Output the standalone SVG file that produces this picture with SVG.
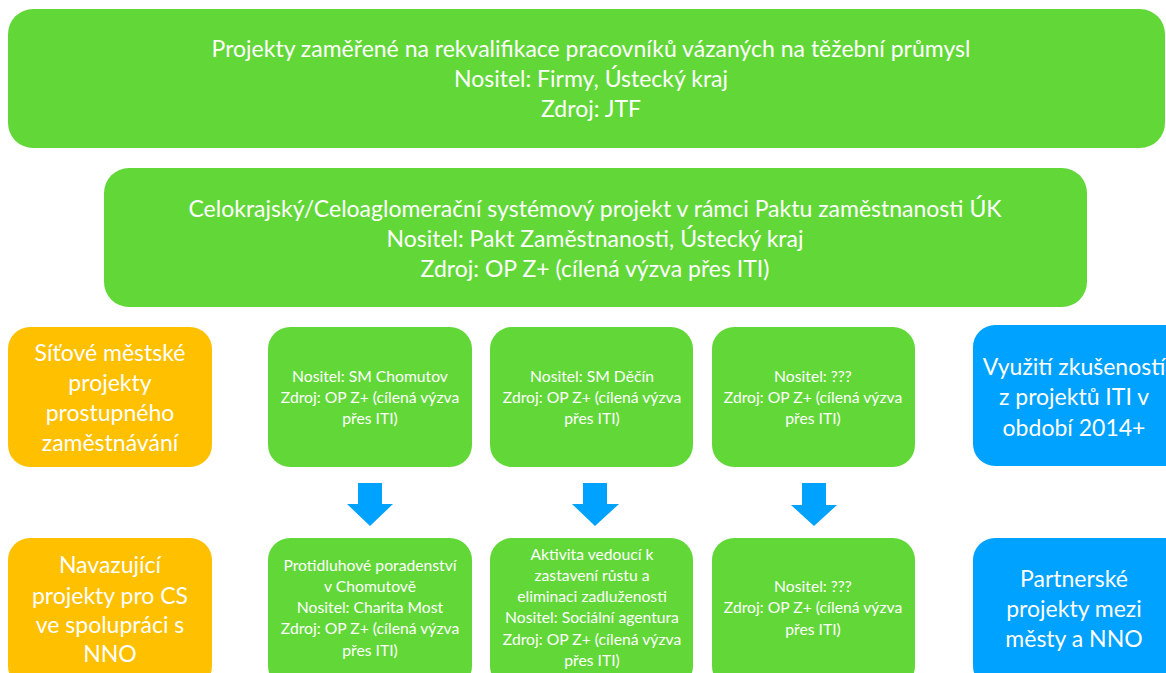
<svg xmlns="http://www.w3.org/2000/svg" width="1166" height="673" viewBox="0 0 1166 673">
<style>
.g{fill:#62D838}
.o{fill:#FFC000}
.b{fill:#00A2FF}
text{font-family:Lato,"Noto Sans",sans-serif;fill:#fff;text-anchor:middle}
.big{font-size:23px}
.sm{font-size:15.7px}
.arr{fill:#00A2FF}
</style>
<rect width="1166" height="673" fill="#fff"/>
<g id="n_top">
<rect class="g" x="8" y="9" width="1157" height="139" rx="25"/>
<text class="big" x="591" y="57">Projekty zaměřené na rekvalifikace pracovníků vázaných na těžební průmysl</text>
<text class="big" x="591" y="87">Nositel: Firmy, Ústecký kraj</text>
<text class="big" x="591" y="117">Zdroj: JTF</text>
</g>
<g id="n_pakt">
<rect class="g" x="104" y="168" width="983" height="139" rx="25"/>
<text class="big" x="595" y="217">Celokrajský/Celoaglomerační systémový projekt v rámci Paktu zaměstnanosti ÚK</text>
<text class="big" x="595" y="247">Nositel: Pakt Zaměstnanosti, Ústecký kraj</text>
<text class="big" x="595" y="277">Zdroj: OP Z+ (cílená výzva přes ITI)</text>
</g>
<g id="n_sitove">
<rect class="o" x="8" y="327" width="204" height="140" rx="22"/>
<text class="big" x="110" y="361">Síťové městské</text>
<text class="big" x="110" y="391">projekty</text>
<text class="big" x="110" y="421">prostupného</text>
<text class="big" x="110" y="451">zaměstnávání</text>
</g>
<g id="n_chomutov">
<rect class="g" x="268" y="327" width="204" height="140" rx="22"/>
<text class="sm" x="370" y="382">Nositel: SM Chomutov</text>
<text class="sm" x="370" y="403">Zdroj: OP Z+ (cílená výzva</text>
<text class="sm" x="370" y="424">přes ITI)</text>
</g>
<g id="n_decin">
<rect class="g" x="490" y="327" width="203" height="140" rx="22"/>
<text class="sm" x="592" y="382">Nositel: SM Děčín</text>
<text class="sm" x="592" y="403">Zdroj: OP Z+ (cílená výzva</text>
<text class="sm" x="592" y="424">přes ITI)</text>
</g>
<g id="n_q1">
<rect class="g" x="712" y="327" width="203" height="140" rx="22"/>
<text class="sm" x="813" y="382">Nositel: ???</text>
<text class="sm" x="813" y="403">Zdroj: OP Z+ (cílená výzva</text>
<text class="sm" x="813" y="424">přes ITI)</text>
</g>
<g id="n_vyuziti">
<rect class="b" x="973" y="325" width="215" height="141" rx="22"/>
<text class="big" x="1074" y="375">Využití zkušeností</text>
<text class="big" x="1074" y="405">z projektů ITI v</text>
<text class="big" x="1074" y="436">období 2014+</text>
</g>
<g id="connectors">
<polygon class="arr" points="358,483 382,483 382,504 393,504 370,526 347,504 358,504"/>
<polygon class="arr" points="583,483 607,483 607,504 619,504 595,526 572,504 583,504"/>
<polygon class="arr" points="802,483 826,483 826,505 837,505 814,526 791,505 802,505"/>
</g>
<g id="n_navazujici">
<rect class="o" x="8" y="538" width="204" height="150" rx="22"/>
<text class="big" x="110" y="573">Navazující</text>
<text class="big" x="110" y="604">projekty pro CS</text>
<text class="big" x="110" y="633">ve spolupráci s</text>
<text class="big" x="110" y="662">NNO</text>
</g>
<g id="n_protidluh">
<rect class="g" x="268" y="538" width="204" height="150" rx="22"/>
<text class="sm" x="370" y="571">Protidluhové poradenství</text>
<text class="sm" x="370" y="592">v Chomutově</text>
<text class="sm" x="370" y="613">Nositel: Charita Most</text>
<text class="sm" x="370" y="634">Zdroj: OP Z+ (cílená výzva</text>
<text class="sm" x="370" y="656">přes ITI)</text>
</g>
<g id="n_aktivita">
<rect class="g" x="490" y="538" width="203" height="150" rx="22"/>
<text class="sm" x="592" y="560">Aktivita vedoucí k</text>
<text class="sm" x="592" y="581">zastavení růstu a</text>
<text class="sm" x="592" y="602">eliminaci zadluženosti</text>
<text class="sm" x="592" y="623">Nositel: Sociální agentura</text>
<text class="sm" x="592" y="645">Zdroj: OP Z+ (cílená výzva</text>
<text class="sm" x="592" y="666">přes ITI)</text>
</g>
<g id="n_q2">
<rect class="g" x="712" y="538" width="203" height="150" rx="22"/>
<text class="sm" x="813" y="592">Nositel: ???</text>
<text class="sm" x="813" y="613">Zdroj: OP Z+ (cílená výzva</text>
<text class="sm" x="813" y="635">přes ITI)</text>
</g>
<g id="n_partnerske">
<rect class="b" x="973" y="538" width="215" height="150" rx="22"/>
<text class="big" x="1074" y="587">Partnerské</text>
<text class="big" x="1074" y="617">projekty mezi</text>
<text class="big" x="1074" y="647">městy a NNO</text>
</g>
</svg>
